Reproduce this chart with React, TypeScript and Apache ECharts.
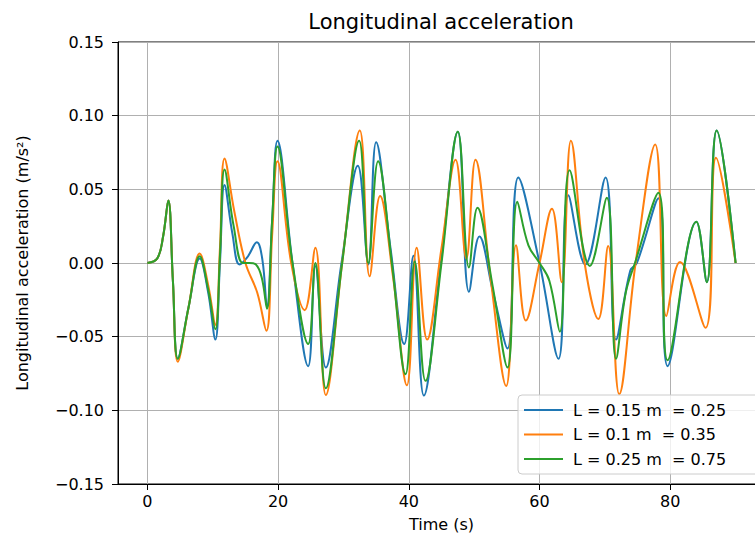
import React, { useEffect, useRef } from "react";
import * as echarts from "echarts";

const seriesNames = ["L = 0.15 m  = 0.25", "L = 0.1 m  = 0.35", "L = 0.25 m  = 0.75"];
const seriesColors = ["#1f77b4", "#ff7f0e", "#2ca02c"];

const xTicks = [0, 20, 40, 60, 80];
const yTicks = [-0.15, -0.1, -0.05, 0, 0.05, 0.1, 0.15];

const blueT = [0, 1.5, 2.4, 3.2, 3.9, 4.65, 6.3, 8.0, 9.3, 10.4, 11.1, 11.8, 13.0, 14.1, 15.3, 16.75, 17.6, 18.3, 19.1, 19.9, 22.2, 24.6, 25.7, 27.3, 29.7, 32.2, 33.8, 35.0, 37.2, 39.3, 40.7, 42.3, 44.9, 47.5, 49.2, 50.8, 52.9, 55.1, 56.75, 60, 62.9, 64.4, 67.0, 70.1, 71.7, 73.9, 74.9, 78.2, 79.6, 84.0, 85.6, 87.1, 90];
const blueV = [0, 0.003, 0.018, 0.0425, -0.012, -0.065, -0.03, 0.003, -0.02, -0.052, 0.0, 0.053, 0.02, -0.001, 0.004, 0.014, 0.002, -0.03, 0.03, 0.083, 0.0, -0.07, -0.002, -0.071, 0.0, 0.066, -0.001, 0.082, 0.01, -0.055, 0.005, -0.09, 0.0, 0.089, -0.0195, 0.018, -0.02, -0.058, 0.058, 0, -0.065, 0.046, -0.001, 0.058, -0.052, -0.005, 0.0, 0.044, -0.07, 0.028, -0.013, 0.09, 0];

const orangeT = [0, 1.5, 2.4, 3.2, 3.9, 4.65, 6.3, 8.0, 9.3, 10.4, 11.1, 11.8, 13.3, 15.0, 16.8, 18.2, 19.1, 19.9, 22.0, 24.06, 25.7, 27.3, 29.8, 32.5, 34.0, 35.6, 37.6, 39.7, 41.2, 42.8, 45.0, 47.15, 48.8, 50.2, 52.5, 54.9, 56.4, 57.9, 60, 61.9, 63.4, 64.8, 66.9, 69.0, 70.5, 72.2, 74.7, 77.7, 79.4, 81.5, 85.4, 87.0, 90];
const orangeV = [0, 0.003, 0.018, 0.0425, -0.012, -0.067, -0.03, 0.0065, -0.015, -0.042, 0.01, 0.071, 0.035, 0.0, -0.02, -0.046, 0.02, 0.069, 0.0, -0.032, 0.0104, -0.0896, 0.0, 0.09, -0.009, 0.0455, -0.01, -0.083, 0.0104, -0.052, 0.01, 0.07, 0.003, 0.07, -0.01, -0.0835, 0.012, -0.039, 0, 0.0368, -0.013, 0.083, 0.0, -0.038, 0.0115, -0.089, 0.0, 0.0805, -0.036, 0.0007, -0.044, 0.0715, 0];

const greenT = [0, 1.5, 2.4, 3.2, 3.9, 4.65, 6.3, 8.0, 9.3, 10.4, 11.1, 11.8, 13.2, 14.6, 15.6, 16.6, 17.5, 18.3, 19.1, 19.9, 22.2, 24.6, 25.7, 27.3, 29.8, 32.4, 33.8, 35.3, 37.4, 39.5, 40.9, 42.55, 45.0, 47.5, 49.2, 50.5, 52.8, 55.1, 56.6, 58.3, 60, 61.5, 63.1, 64.6, 67.7, 70.3, 71.7, 73.2, 74.6, 78.2, 79.6, 84.0, 85.6, 87.1, 90];
const greenV = [0, 0.003, 0.018, 0.0425, -0.012, -0.065, -0.03, 0.0045, -0.018, -0.045, 0.005, 0.0635, 0.025, 0.0, 0.0, -0.001, -0.01, -0.031, 0.03, 0.079, 0.0, -0.055, 0.0, -0.085, 0.0, 0.083, 0.0, 0.069, 0.0, -0.0755, 0.001, -0.08, 0.0, 0.089, -0.003, 0.0375, -0.015, -0.071, 0.0416, 0.012, 0, -0.012, -0.0466, 0.063, -0.002, 0.0443, -0.065, -0.02, 0.0, 0.0477, -0.066, 0.028, -0.013, 0.09, 0];

const allT = [blueT, orangeT, greenT];
const allV = [blueV, orangeV, greenV];

const FONT = "DejaVu Sans";

export default function App() {
  const ref = useRef<HTMLDivElement>(null);
  useEffect(() => {
    if (!ref.current) return;
    const chart = echarts.init(ref.current, undefined, { renderer: "svg" });
    const series = seriesNames.map((name, i) => ({
      name,
      type: "line",
      data: allT[i].map((t, k) => [t, allV[i][k]]),
      smooth: 0.4,
      symbol: "none",
      lineStyle: { color: seriesColors[i], width: 2 },
      itemStyle: { color: seriesColors[i] },
    }));
    chart.setOption({
      animation: false,
      backgroundColor: "#ffffff",
      textStyle: { fontFamily: FONT },
      grid: {
        left: 118,
        top: 42,
        width: 647,
        height: 442,
        outerBoundsMode: "none",
        containLabel: false,
        show: true,
        borderColor: "#000000",
        borderWidth: 1,
        backgroundColor: "transparent",
      },
      graphic: [
        {
          type: "text",
          x: 441,
          y: 22,
          style: {
            text: "Longitudinal acceleration",
            fontFamily: FONT,
            fontSize: 21,
            fill: "#000000",
            textAlign: "center",
            textVerticalAlign: "middle",
          },
        },
      ],
      xAxis: {
        type: "value",
        min: -4.5,
        max: 94.5,
        name: "Time (s)",
        nameLocation: "middle",
        nameGap: 32,
        nameTextStyle: { fontFamily: FONT, fontSize: 16, color: "#000000" },
        axisLine: { show: true, onZero: false, lineStyle: { color: "#000000", width: 1 } },
        axisTick: { show: true, length: 6, inside: false, customValues: xTicks, lineStyle: { color: "#000000" } },
        axisLabel: {
          customValues: xTicks,
          margin: 9,
          fontFamily: FONT,
          fontSize: 16,
          color: "#000000",
        },
        splitLine: { show: true, lineStyle: { color: "#b0b0b0", width: 1 } },
      },
      yAxis: {
        type: "value",
        min: -0.15,
        max: 0.15,
        interval: 0.05,
        name: "Longitudinal acceleration (m/s²)",
        nameLocation: "middle",
        nameGap: 88,
        nameTextStyle: { fontFamily: FONT, fontSize: 16, color: "#000000" },
        axisLine: { show: true, onZero: false, lineStyle: { color: "#000000", width: 1 } },
        axisTick: { show: true, length: 6, inside: false, lineStyle: { color: "#000000" } },
        axisLabel: {
          margin: 14,
          fontFamily: FONT,
          fontSize: 16,
          color: "#000000",
          formatter: (v: number) => {
            const r = Math.round(v * 100) / 100;
            return (r < 0 ? "\u2212" : "") + Math.abs(r).toFixed(2);
          },
        },
        splitLine: { show: true, lineStyle: { color: "#b0b0b0", width: 1 } },
      },
      legend: {
        show: true,
        orient: "vertical",
        left: 518,
        top: 395,
        padding: [7, 40, 7, 5],
        itemWidth: 39,
        itemHeight: 16,
        itemGap: 8.5,
        itemStyle: { opacity: 0 },
        backgroundColor: "rgba(255,255,255,0.8)",
        borderColor: "#cccccc",
        borderWidth: 1,
        borderRadius: 4,
        textStyle: { fontFamily: FONT, fontSize: 16, color: "#000000", padding: [0, 0, 0, 5] },
        data: seriesNames,
      },
      series,
    });
    return () => chart.dispose();
  }, []);
  return (
    <div
      ref={ref}
      style={{ position: "absolute", left: 0, top: 0, width: 755, height: 533 }}
    />
  );
}
